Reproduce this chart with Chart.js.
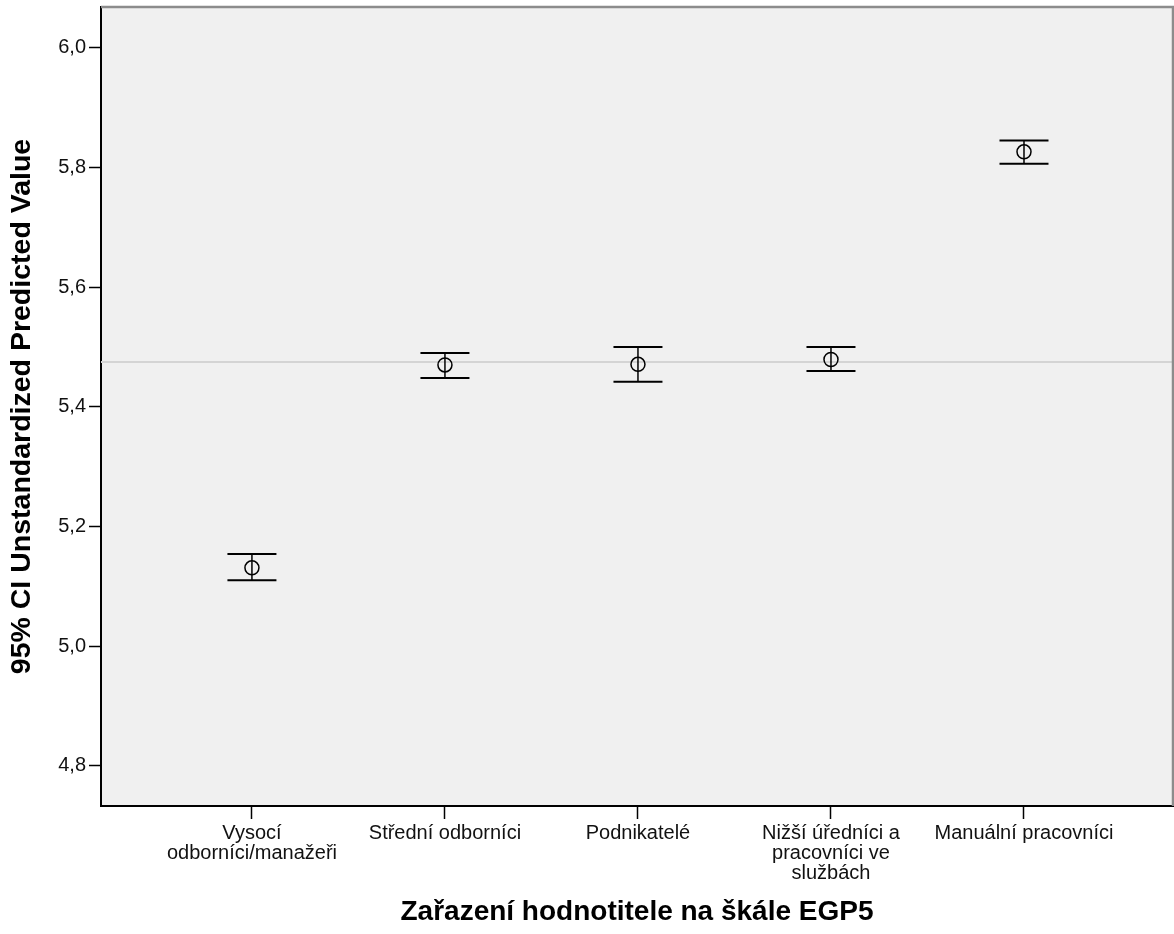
<!DOCTYPE html>
<html><head><meta charset="utf-8">
<script src="https://cdn.jsdelivr.net/npm/chart.js@4.4.1/dist/chart.umd.min.js"></script>
<style>html,body{margin:0;padding:0;background:#fff;overflow:hidden}#wrap{width:1174px;height:934px;overflow:hidden}canvas{display:block}</style>
</head><body><div id="wrap"><canvas id="c" width="1174" height="934"></canvas></div>
<script>
const categories = [["Vysocí","odborníci/manažeři"],["Střední odborníci"],["Podnikatelé"],["Nižší úředníci a","pracovníci ve","službách"],["Manuální pracovníci"]];
const means = [5.131, 5.470, 5.471, 5.479, 5.826];
const lowerCI = [5.110, 5.448, 5.442, 5.460, 5.806];
const upperCI = [5.154, 5.490, 5.500, 5.500, 5.845];
const referenceValue = 5.475;
const yTickValues = [4.8, 5.0, 5.2, 5.4, 5.6, 5.8, 6.0];
const yMin = 4.733, yMax = 6.068;
const xMin = -0.782, xMax = 4.772;

const FONT = "'Liberation Sans', Arial, sans-serif";

const decorPlugin = {
  id: 'decor',
  beforeDraw(chart) {
    const {ctx, chartArea: a} = chart;
    ctx.save();
    ctx.fillStyle = '#f0f0f0';
    ctx.fillRect(a.left, a.top, a.right - a.left, a.bottom - a.top);
    ctx.restore();
  },
  beforeDatasetsDraw(chart) {
    const {ctx, chartArea: a, scales} = chart;
    const y = scales.y, x = scales.x;
    ctx.save();
    const ry = y.getPixelForValue(referenceValue);
    ctx.strokeStyle = '#d4d4d4';
    ctx.lineWidth = 2;
    ctx.beginPath(); ctx.moveTo(a.left, ry); ctx.lineTo(a.right, ry); ctx.stroke();
    ctx.strokeStyle = '#8c8c8c';
    ctx.lineWidth = 2.5;
    ctx.beginPath(); ctx.moveTo(a.left, a.top); ctx.lineTo(a.right, a.top); ctx.lineTo(a.right, a.bottom); ctx.stroke();
    ctx.strokeStyle = '#000';
    for (let i = 0; i < means.length; i++) {
      const px = x.getPixelForValue(i);
      const yl = y.getPixelForValue(lowerCI[i]);
      const yu = y.getPixelForValue(upperCI[i]);
      ctx.lineWidth = 1.5;
      ctx.beginPath(); ctx.moveTo(px, yu); ctx.lineTo(px, yl); ctx.stroke();
      ctx.lineWidth = 2;
      ctx.beginPath();
      ctx.moveTo(px - 24.5, yu); ctx.lineTo(px + 24.5, yu);
      ctx.moveTo(px - 24.5, yl); ctx.lineTo(px + 24.5, yl);
      ctx.stroke();
    }
    ctx.restore();
  }
};

new Chart(document.getElementById('c'), {
  type: 'scatter',
  data: {
    datasets: [{
      data: means.map((m, i) => ({x: i, y: m})),
      pointRadius: 7,
      pointHoverRadius: 7,
      pointBorderWidth: 1.5,
      borderColor: '#000',
      backgroundColor: 'rgba(0,0,0,0)',
      showLine: false
    }]
  },
  options: {
    responsive: false,
    devicePixelRatio: 1,
    animation: false,
    layout: {autoPadding: false, padding: {top: 7, right: 1, left: 0, bottom: 0}},
    plugins: {legend: {display: false}, tooltip: {enabled: false}},
    scales: {
      x: {
        type: 'linear',
        min: xMin, max: xMax,
        afterBuildTicks: s => { s.ticks = categories.map((c, i) => ({value: i})); },
        afterFit: s => { s.height = 128; s.paddingLeft = 0; s.paddingRight = 0; },
        ticks: {
          callback: (v, i) => categories[i],
          font: {family: FONT, size: 20, lineHeight: 1.0},
          color: '#111',
          maxRotation: 0, minRotation: 0, autoSkip: false, padding: 4
        },
        grid: {drawOnChartArea: false, drawTicks: true, tickLength: 13, tickColor: '#000', tickWidth: 1.5},
        border: {display: true, color: '#000', width: 2},
        title: {display: true, text: 'Zařazení hodnotitele na škále EGP5', color: '#000',
          font: {family: FONT, size: 28, weight: 'bold', lineHeight: 1.2}, padding: {top: 0, bottom: 5}}
      },
      y: {
        type: 'linear',
        min: yMin, max: yMax,
        afterBuildTicks: s => { s.ticks = yTickValues.map(v => ({value: v})); },
        afterFit: s => { s.width = 101; s.paddingTop = 0; s.paddingBottom = 0; },
        ticks: {
          callback: v => v.toFixed(1).replace('.', ','),
          font: {family: FONT, size: 20},
          color: '#111',
          padding: 3
        },
        grid: {drawOnChartArea: false, drawTicks: true, tickLength: 12, tickColor: '#000', tickWidth: 1.5},
        border: {display: true, color: '#000', width: 2},
        title: {display: true, text: '95% CI Unstandardized Predicted Value', color: '#000',
          font: {family: FONT, size: 28.5, weight: 'bold', lineHeight: 1.2}, padding: {top: 5, bottom: 0}}
      }
    }
  },
  plugins: [decorPlugin]
});
</script></body></html>
